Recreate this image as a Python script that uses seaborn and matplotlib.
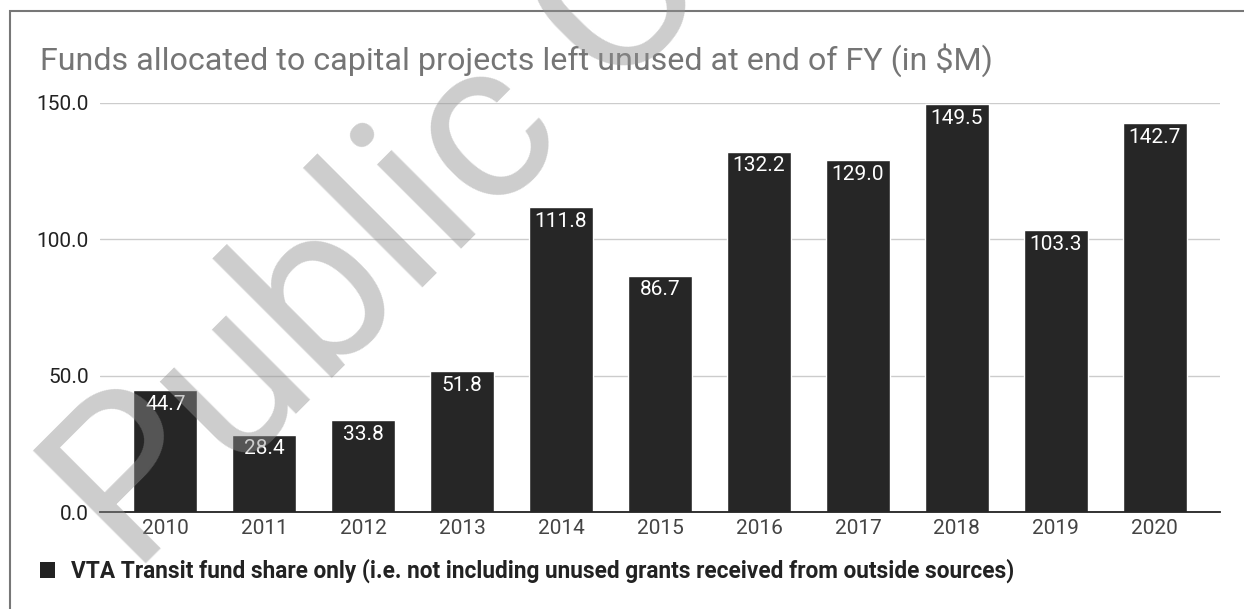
import matplotlib
matplotlib.use('Agg')
import matplotlib.pyplot as plt
import seaborn as sns
import pandas as pd
from matplotlib.patches import Patch, Rectangle

years = ['2010', '2011', '2012', '2013', '2014', '2015', '2016', '2017', '2018', '2019', '2020']
unused = [44.7, 28.4, 33.8, 51.8, 111.8, 86.7, 132.2, 129.0, 149.5, 103.3, 142.7]
yticks = [0, 50, 100, 150]
title = 'Funds allocated to capital projects left unused at end of FY (in $M)'
legend_label = 'VTA Transit fund share only (i.e. not including unused grants received from outside sources)'
watermark = 'Public Comment'

sns.set_theme(style='white')
plt.rcParams['font.family'] = ['Roboto', 'DejaVu Sans']

W, H = 1244, 609
fig = plt.figure(figsize=(W / 100, H / 100), dpi=100)
ax = fig.add_axes([100 / W, 1 - 512 / H, 1120 / W, 409 / H])

df = pd.DataFrame({'year': years, 'value': unused})
sns.barplot(data=df, x='year', y='value', color='#262626', saturation=1,
            width=0.65, ax=ax, zorder=2)

ax.set_xlim(-0.66, 10.66)
ax.set_ylim(0, 150)
ax.set_yticks(yticks)
ax.set_yticklabels([f'{v:.1f}' for v in yticks])
ax.set_xlabel('')
ax.set_ylabel('')
ax.tick_params(axis='x', length=0, pad=5, labelsize=15, labelcolor='#444444')
ax.tick_params(axis='y', length=0, pad=8, labelsize=15, labelcolor='#222222')

ax.yaxis.grid(True, color='#cccccc', lw=1)
ax.set_axisbelow(True)
for s in ['top', 'right', 'left']:
    ax.spines[s].set_visible(False)
ax.spines['bottom'].set_color('#222222')
ax.spines['bottom'].set_linewidth(1.3)
ax.spines['bottom'].set_zorder(3)

# value labels inside the top of each bar
for p, v in zip(ax.patches, unused):
    ax.annotate(f'{v:.1f}', (p.get_x() + p.get_width() / 2, p.get_height()),
                xytext=(0, -3.5), textcoords='offset points', ha='center', va='top',
                color='white', fontsize=15, zorder=4)

# title and frame
fig.text(40 / W, 1 - 70 / H, title, fontsize=23.2, color='#757575', va='baseline', ha='left')
fig.patches.append(Rectangle((10 / W, -0.1), 1.2, 1.1 - 11 / H, transform=fig.transFigure,
                             fill=False, edgecolor='#777777', lw=1.5))

fig.legend(handles=[Patch(facecolor='#222222', edgecolor='none', label=legend_label)],
           loc='center left', bbox_to_anchor=(40 / W, 1 - 571 / H), frameon=False,
           borderpad=0, borderaxespad=0, handlelength=0.68, handleheight=0.75,
           handletextpad=0.68, prop={'weight': 'bold', 'size': 16.3})
for t in fig.legends[0].get_texts():
    t.set_color('#222222')

# watermark
fig.text(134 / W, 1 - 577 / H, watermark, fontsize=162, color='#909090', alpha=0.45,
         rotation=45, rotation_mode='anchor', ha='left', va='baseline', zorder=10)

fig.savefig('out.png', dpi=100)
